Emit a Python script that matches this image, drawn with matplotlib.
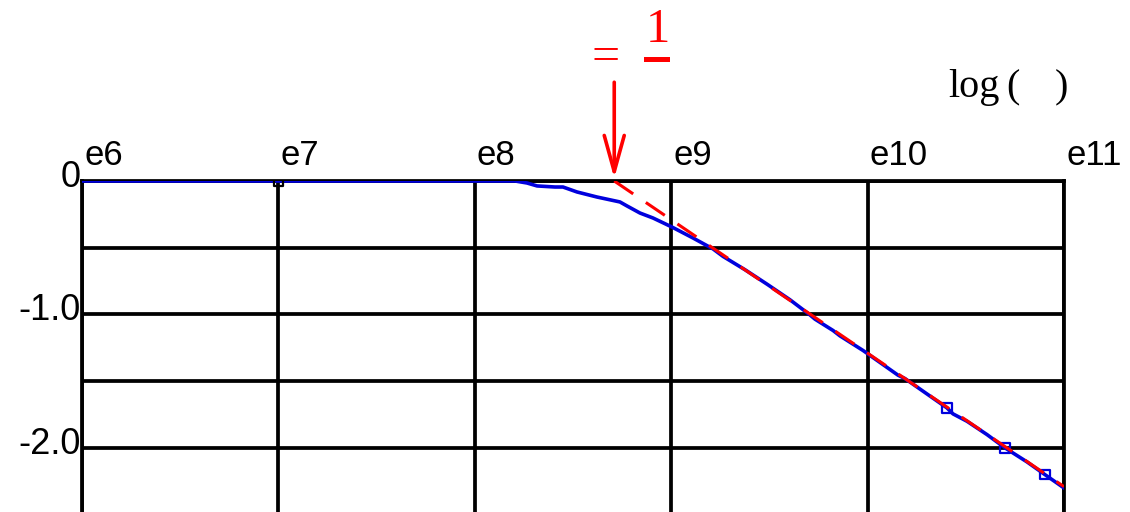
import numpy as np
import matplotlib
matplotlib.use("Agg")
import matplotlib.pyplot as plt
from matplotlib.lines import Line2D

# measured response: log10 of frequency and log10 of gain
log_freq = [6.0, 7.0, 8.205, 8.266, 8.317, 8.408, 8.449, 8.52, 8.622, 8.739,
            8.775, 8.841, 8.907, 9.004, 9.111, 9.213, 9.264, 9.376, 9.49, 9.605,
            9.707, 9.732, 9.824, 9.859, 9.977, 10.155, 10.19, 10.404, 10.435,
            10.506, 10.608, 10.7, 10.812, 10.903, 11.0]
log_gain = [0.0, 0.0, 0.0, -0.015, -0.037, -0.045, -0.045, -0.082, -0.12, -0.157,
            -0.187, -0.24, -0.277, -0.345, -0.427, -0.509, -0.565, -0.665, -0.775, -0.89,
            -1.004, -1.035, -1.12, -1.16, -1.27, -1.455, -1.48, -1.7, -1.745,
            -1.8, -1.9, -2.0, -2.105, -2.2, -2.3]
marker_idx = [1, 27, 31, 33]
marker_colors = ["black", "#0000dd", "#0000dd", "#0000dd"]

# high-frequency asymptote (slope -1) starting at the corner
corner_log_freq = 8.71
asym_log_freq = [8.71, 11.0]
asym_log_gain = [0.0, -2.29]

decades = [6, 7, 8, 9, 10, 11]
xtick_labels = ["e6", "e7", "e8", "e9", "e10", "e11"]
ytick_vals = [0.0, -1.0, -2.0]
ytick_labels = ["0", "-1.0", "-2.0"]

freq = 10.0 ** np.array(log_freq)
gain = np.array(log_gain)

fig = plt.figure(figsize=(11.3, 5.12), dpi=100)
ax = fig.add_axes([82 / 1130, 0, 982 / 1130, 331 / 512])
ax.set_xscale("log")
ax.set_xlim(10.0 ** 6, 10.0 ** 11)
ax.set_ylim(-2.48, 0)

# grid
ax.set_xticks([10.0 ** d for d in decades])
ax.set_yticks([0, -0.5, -1.0, -1.5, -2.0])
ax.xaxis.set_minor_locator(matplotlib.ticker.NullLocator())
ax.tick_params(length=0, labelbottom=False, labelleft=False)
ax.grid(True, color="black", linewidth=2.7, zorder=0)
for side in ["top", "left", "right"]:
    ax.spines[side].set_linewidth(2.7)
ax.spines["bottom"].set_visible(False)

ax.plot(freq, gain, color="#0000dd", linewidth=2.6, zorder=3)
ax.scatter(freq[marker_idx], gain[marker_idx], marker="s", s=45,
           facecolors="none", edgecolors=marker_colors, linewidths=1.6, zorder=4)
ax.plot(10.0 ** np.array(asym_log_freq), asym_log_gain, color="red",
        linewidth=2.2, dashes=(7.5, 5), zorder=5)

sans = "Liberation Sans"
serif = "Liberation Serif"
for d, lab in zip(decades, xtick_labels):
    ax.annotate(lab, xy=(10.0 ** d, 1), xycoords=ax.get_xaxis_transform(),
                xytext=(1.5, 11.5), textcoords="offset points",
                ha="left", va="baseline", fontsize=25, family=sans,
                annotation_clip=False)
for v, lab in zip(ytick_vals, ytick_labels):
    ax.annotate(lab, xy=(0, v), xycoords=ax.get_yaxis_transform(),
                xytext=(-1.0, 2.5), textcoords="offset points",
                ha="right", va="center", fontsize=26, family=sans,
                annotation_clip=False)

# corner-frequency arrow
fc = 10.0 ** corner_log_freq
ax.annotate("", xy=(fc, 0.02), xytext=(fc, 0.74), xycoords="data",
            arrowprops=dict(arrowstyle="->,head_length=2.6,head_width=0.72",
                            mutation_scale=10, lw=2.6, color="red",
                            shrinkA=0, shrinkB=0),
            annotation_clip=False)

fig.text(591 / 1130, 1 - 70.5 / 512, "=", color="red", fontsize=36,
         family=serif, ha="left", va="baseline")
fig.text(646 / 1130, 1 - 42 / 512, "1", color="red", fontsize=35,
         family=serif, ha="left", va="baseline")
fig.add_artist(Line2D([646 / 1130, 667 / 1130], [1 - 58.5 / 512] * 2,
                      color="red", linewidth=3.6))

fig.text(948 / 1130, 1 - 97 / 512, "log", fontsize=29, family=serif,
         ha="left", va="baseline")
fig.text(1006 / 1130, 1 - 97 / 512, "(", fontsize=29, family=serif,
         ha="left", va="baseline")
fig.text(1055 / 1130, 1 - 97 / 512, ")", fontsize=29, family=serif,
         ha="left", va="baseline")

fig.savefig("out.png", dpi=100)
